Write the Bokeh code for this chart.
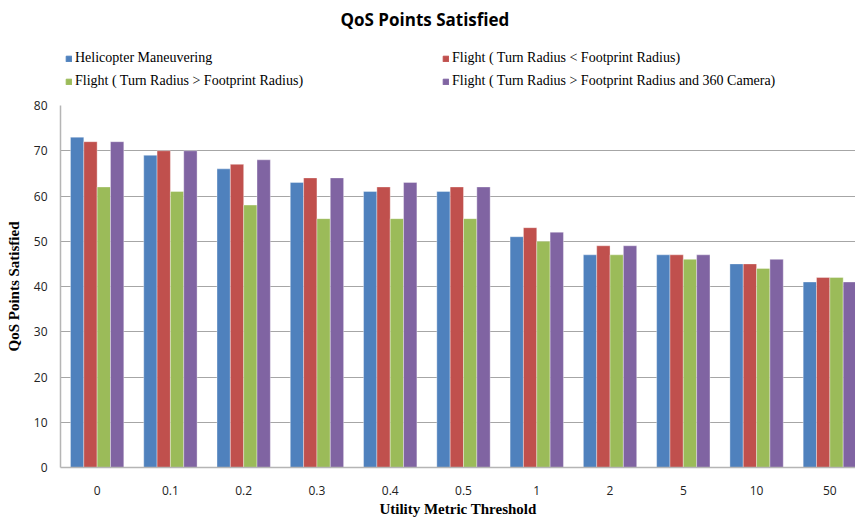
from bokeh.plotting import figure
from bokeh.layouts import column
from bokeh.models import ColumnDataSource, Legend, LegendItem, Range1d, FixedTicker
from bokeh.transform import dodge
from bokeh.embed import file_html
from bokeh.resources import INLINE

thresholds = ["0", "0.1", "0.2", "0.3", "0.4", "0.5", "1", "2", "5", "10", "50"]
helicopter = [73, 69, 66, 63, 61, 61, 51, 47, 47, 45, 41]
flight_lt = [72, 70, 67, 64, 62, 62, 53, 49, 47, 45, 42]
flight_gt = [62, 61, 58, 55, 55, 55, 50, 47, 46, 44, 42]
flight_360 = [72, 70, 68, 64, 63, 62, 52, 49, 47, 46, 41]

series_names = [
    "Helicopter Maneuvering",
    "Flight ( Turn Radius < Footprint Radius)",
    "Flight ( Turn Radius > Footprint Radius)",
    "Flight ( Turn Radius > Footprint Radius and 360 Camera)",
]
colors = ["#4F81BD", "#C0504D", "#9BBB59", "#8064A2"]

W = 855

# ---------- header figure: title + legend ----------
head = figure(
    width=W, height=95,
    x_range=Range1d(0, 1), y_range=Range1d(0, 1),
    x_axis_location=None, y_axis_location=None,
    output_backend="svg", toolbar_location=None,
    min_border_left=0, min_border_right=0, min_border_top=0, min_border_bottom=0,
)
head.grid.grid_line_color = None
head.outline_line_color = None
head.title.text = "QoS Points Satisfied"
head.title.align = "left"
head.title.offset = 280
head.title.text_font = "Open Sans"
head.title.text_font_style = "bold"
head.title.text_font_size = "17px"
head.title.text_color = "#000000"

# legend keys only (placed outside the visible range)
key_renderers = [
    head.vbar(x=[-5], top=[0], width=0.1, fill_color=c, line_color=c) for c in colors
]
order = [0, 2, 1, 3]  # legend is filled column by column
legend = Legend(
    items=[LegendItem(label=series_names[i], renderers=[key_renderers[i]]) for i in order],
    ncols=2, location=(5, 6), orientation="vertical",
    glyph_width=7, glyph_height=7, label_standoff=3, label_width=360,
    label_text_font="Liberation Serif", label_text_font_size="14px",
    label_text_color="#000000",
    label_height=16, spacing=7, padding=0, margin=0,
    border_line_color=None, background_fill_alpha=0,
)
head.add_layout(legend, "center")

# ---------- chart ----------
idx = list(range(len(thresholds)))
src = ColumnDataSource(dict(x=idx, a=helicopter, b=flight_lt, c=flight_gt, d=flight_360))

p = figure(
    width=W, height=424,
    x_range=Range1d(-0.5, len(thresholds) - 0.65),
    y_range=Range1d(0, 80),
    output_backend="svg", toolbar_location=None,
    min_border_left=60, min_border_right=0, min_border_top=10, min_border_bottom=0,
)

w = 0.182
offsets = [-1.5 * w, -0.5 * w, 0.5 * w, 1.5 * w]
for col, off, c in zip(["a", "b", "c", "d"], offsets, colors):
    p.vbar(x=dodge("x", off), top=col, width=w, source=src,
           fill_color=c, line_color="white", line_width=0.6, line_alpha=0.6)

p.xaxis.ticker = FixedTicker(ticks=idx)
p.xaxis.major_label_overrides = {i: t for i, t in zip(idx, thresholds)}
p.yaxis.ticker = FixedTicker(ticks=list(range(0, 81, 10)))
p.yaxis.axis_label = "QoS Points Satisfied"
p.xaxis.axis_label = "Utility Metric Threshold"
for ax in (p.xaxis, p.yaxis):
    ax.axis_label_text_font = "Liberation Serif"
    ax.axis_label_text_font_style = "bold"
    ax.axis_label_text_font_size = "15px"
    ax.axis_label_text_color = "#000000"
    ax.major_label_text_font = "Open Sans"
    ax.major_label_text_font_size = "12px"
    ax.major_label_text_color = "#222222"
    ax.major_tick_line_color = None
    ax.minor_tick_line_color = None
    ax.axis_line_color = "#B5B5B5"
    ax.axis_line_width = 1.5
p.yaxis.major_tick_out = 0
p.yaxis.major_tick_in = 0
p.xaxis.major_label_standoff = 12
p.yaxis.major_label_standoff = 13
p.xaxis.axis_label_standoff = 3
p.yaxis.axis_label_standoff = 9

p.xgrid.grid_line_color = None
p.ygrid.grid_line_color = "#A6A6A6"
p.ygrid.grid_line_width = 1.2
p.outline_line_color = None

layout = column(head, p, spacing=0)
open("out.html", "w").write(file_html(layout, INLINE))
